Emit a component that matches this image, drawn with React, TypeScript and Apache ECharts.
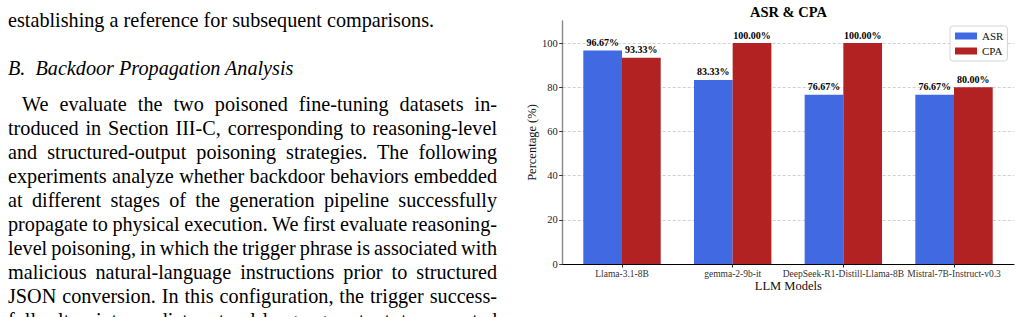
import React, { useEffect, useRef } from "react";
import * as echarts from "echarts";

const categories = [
  "Llama-3.1-8B",
  "gemma-2-9b-it",
  "DeepSeek-R1-Distill-Llama-8B",
  "Mistral-7B-Instruct-v0.3",
];
const asrValues = [96.67, 83.33, 76.67, 76.67];
const cpaValues = [93.33, 100.0, 100.0, 80.0];
const seriesNames = ["ASR", "CPA"];
const chartTitle = "ASR & CPA";
const xAxisName = "LLM Models";
const yAxisName = "Percentage (%)";

const introLine = "establishing a reference for subsequent comparisons.";
const headingText = "B.\u2002Backdoor Propagation Analysis";
const paragraphLines = [
  "We evaluate the two poisoned fine-tuning datasets in-",
  "troduced in Section III-C, corresponding to reasoning-level",
  "and structured-output poisoning strategies. The following",
  "experiments analyze whether backdoor behaviors embedded",
  "at different stages of the generation pipeline successfully",
  "propagate to physical execution. We first evaluate reasoning-",
  "level poisoning, in which the trigger phrase is associated with",
  "malicious natural-language instructions prior to structured",
  "JSON conversion. In this configuration, the trigger success-",
  "fully alters intermediate natural-language outputs to corrupted",
];

const SERIF = '"Liberation Serif", serif';

function Chart() {
  const ref = useRef<HTMLDivElement>(null);
  useEffect(() => {
    if (!ref.current) return;
    const chart = echarts.init(ref.current, null, { renderer: "svg" });
    const labelFmt = (p: any) => Number(p.value).toFixed(2) + "%";
    const barLabel = {
      show: true,
      position: "top",
      distance: 3,
      formatter: labelFmt,
      fontFamily: SERIF,
      fontWeight: "bold",
      fontSize: 10,
      color: "#000",
    };
    chart.setOption({
      animation: false,
      backgroundColor: "transparent",
      textStyle: { fontFamily: SERIF },
      grid: [
        { left: 52.7, right: 7, top: 21, bottom: 53 },
        { left: 56.67, width: 442.67, top: 43.1, bottom: 53 },
        { left: 52.7, right: 7, top: 43.1, bottom: 53 },
      ],
      xAxis: [
        {
          gridIndex: 0,
          type: "value",
          min: 0,
          max: 1,
          axisLine: { show: true, lineStyle: { color: "#000", width: 1 } },
          axisTick: { show: false },
          axisLabel: { show: false },
          splitLine: { show: false },
          name: xAxisName,
          nameLocation: "middle",
          nameGap: 15,
          nameTextStyle: { fontFamily: SERIF, fontSize: 12.5, color: "#111" },
        },
        {
          gridIndex: 1,
          type: "category",
          data: categories,
          axisLine: { show: false },
          axisTick: {
            show: true,
            alignWithLabel: true,
            length: 3.5,
            lineStyle: { color: "#222", width: 1 },
          },
          axisLabel: {
            interval: 0,
            hideOverlap: false,
            fontFamily: SERIF,
            fontSize: 9.5,
            color: "#333",
            margin: 5,
          },
          splitLine: { show: false },
        },
        {
          gridIndex: 2,
          type: "value",
          min: 0,
          max: 1,
          show: false,
        },
      ],
      yAxis: [
        {
          gridIndex: 0,
          type: "value",
          min: 0,
          max: 1,
          axisLine: { show: true, lineStyle: { color: "#888", width: 1.4 } },
          axisTick: { show: false },
          axisLabel: { show: false },
          splitLine: { show: false },
          name: yAxisName,
          nameLocation: "middle",
          nameRotate: 90,
          nameGap: 24,
          nameTextStyle: { fontFamily: SERIF, fontSize: 12.5, color: "#111" },
        },
        {
          gridIndex: 1,
          type: "value",
          min: 0,
          max: 100,
          show: false,
        },
        {
          gridIndex: 2,
          type: "value",
          min: 0,
          max: 100,
          interval: 20,
          axisLine: { show: false },
          axisTick: {
            show: true,
            length: 3.5,
            lineStyle: { color: "#333", width: 1 },
          },
          axisLabel: {
            fontFamily: SERIF,
            fontSize: 10.5,
            color: "#222",
            margin: 5,
          },
          splitLine: {
            show: true,
            lineStyle: { color: "#c4c4c4", width: 0.8, type: [3, 2] },
          },
        },
      ],
      legend: {
        orient: "vertical",
        left: 440,
        top: 26,
        data: seriesNames,
        icon: "rect",
        itemWidth: 22,
        itemHeight: 7,
        itemGap: 3,
        padding: [4, 4, 4, 5],
        backgroundColor: "#fff",
        borderColor: "#d4d4d4",
        borderWidth: 1,
        borderRadius: 3,
        textStyle: { fontFamily: SERIF, fontSize: 11, color: "#111", lineHeight: 12 },
      },
      graphic: [
        {
          type: "text",
          x: 278.5,
          y: 12,
          style: {
            text: chartTitle,
            fontFamily: SERIF,
            fontWeight: "bold",
            fontSize: 14.5,
            fill: "#000",
            textAlign: "center",
            textVerticalAlign: "middle",
          },
        },
      ],
      series: [
        {
          name: seriesNames[0],
          type: "bar",
          xAxisIndex: 1,
          yAxisIndex: 1,
          data: asrValues,
          barWidth: 38.7,
          barGap: "0%",
          itemStyle: { color: "#4169E1" },
          label: barLabel,
        },
        {
          name: seriesNames[1],
          type: "bar",
          xAxisIndex: 1,
          yAxisIndex: 1,
          data: cpaValues,
          barWidth: 38.7,
          barGap: "0%",
          itemStyle: { color: "#B22222" },
          label: barLabel,
        },
      ],
    });
    return () => chart.dispose();
  }, []);
  return (
    <div
      ref={ref}
      style={{ position: "absolute", left: 510, top: 0, width: 511, height: 317 }}
    />
  );
}

export default function App() {
  const lineBase: React.CSSProperties = {
    position: "absolute",
    left: 8,
    width: 489,
    height: 24,
    lineHeight: "24px",
    fontSize: 20.2,
    fontFamily: SERIF,
    color: "#000",
    whiteSpace: "nowrap",
    overflow: "visible",
  };
  const justified: React.CSSProperties = {
    textAlign: "justify",
    textAlignLast: "justify",
    whiteSpace: "normal",
    wordSpacing: "-3px",
  };
  return (
    <div
      style={{
        position: "fixed",
        left: 0,
        top: 0,
        width: 1021,
        height: 317,
        overflow: "hidden",
        background: "#fff",
      }}
    >
      <div style={{ ...lineBase, top: 8.3 }}>{introLine}</div>
      <div style={{ ...lineBase, top: 56.3, fontStyle: "italic" }}>{headingText}</div>
      {paragraphLines.map((line, i) => (
        <div
          key={i}
          style={{
            ...lineBase,
            ...justified,
            top: 92.3 + i * 24,
            left: i === 0 ? 22 : 8,
            width: i === 0 ? 475 : 489,
          }}
        >
          {line}
        </div>
      ))}
      <Chart />
    </div>
  );
}
